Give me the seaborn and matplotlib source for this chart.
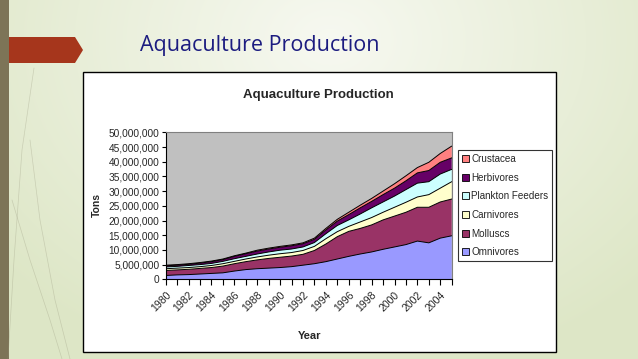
import numpy as np
import pandas as pd
import matplotlib
matplotlib.use("Agg")
import matplotlib.pyplot as plt
import seaborn as sns
from matplotlib.patches import Rectangle, Polygon, Patch
from matplotlib.ticker import FuncFormatter, MultipleLocator

# ---------------- data (million tons) ----------------
years = list(range(1980, 2006))
omnivores = [1.3, 1.5, 1.6, 1.8, 2.0, 2.2, 2.8, 3.3, 3.6, 3.8, 4.0, 4.3, 4.8, 5.3,
             6.0, 6.9, 7.8, 8.6, 9.3, 10.2, 11.0, 11.8, 13.0, 12.4, 14.0, 14.8]
molluscs = [1.7, 1.7, 1.8, 1.9, 2.0, 2.3, 2.5, 2.7, 3.0, 3.3, 3.5, 3.6, 3.7, 4.5,
            6.0, 7.6, 8.5, 8.7, 9.2, 10.0, 10.5, 11.0, 11.5, 12.1, 12.3, 12.5]
carnivores = [0.6, 0.6, 0.6, 0.6, 0.7, 0.8, 0.8, 0.9, 1.0, 1.1, 1.2, 1.2, 1.3, 1.4,
              1.8, 1.7, 1.7, 2.2, 2.5, 2.6, 3.0, 3.4, 3.5, 4.3, 4.7, 5.9]
plankton = [0.6, 0.6, 0.7, 0.7, 0.7, 0.8, 0.9, 0.9, 1.0, 1.1, 1.2, 1.2, 1.2, 1.3,
            1.7, 2.1, 2.2, 2.7, 3.3, 3.5, 3.8, 4.3, 4.7, 4.4, 4.8, 4.2]
herbivores = [0.4, 0.4, 0.4, 0.5, 0.6, 0.6, 0.8, 0.9, 1.0, 1.0, 1.0, 1.1, 1.1, 1.1,
              1.3, 1.5, 1.8, 2.1, 2.2, 2.5, 2.7, 3.0, 3.5, 3.8, 4.0, 3.9]
crustacea = [0.2, 0.2, 0.2, 0.2, 0.2, 0.2, 0.2, 0.2, 0.3, 0.3, 0.3, 0.3, 0.3, 0.4,
             0.5, 0.6, 0.8, 0.9, 1.0, 1.2, 1.5, 1.7, 1.8, 2.8, 3.0, 4.0]

series_names = ["Omnivores", "Molluscs", "Carnivores", "Plankton Feeders",
                "Herbivores", "Crustacea"]
series_vals = [omnivores, molluscs, carnivores, plankton, herbivores, crustacea]
colors = ["#9999FF", "#993366", "#FFFFCC", "#CCFFFF", "#660066", "#FF8080"]
x_labels = [str(y) if (y % 2 == 0 and y <= 2004) else "" for y in years]

# ---------------- style ----------------
sns.set_theme(style="white")
plt.rcParams["font.family"] = ["Liberation Sans", "DejaVu Sans"]

W, H = 638, 359
fig = plt.figure(figsize=(W / 100, H / 100), dpi=100)

# slide background
bg = fig.add_axes([0, 0, 1, 1])
bg.set_axis_off()
yy, xx = np.mgrid[0:H, 0:W]
d = np.clip(np.sqrt(((xx - 330) / 430.0) ** 2 + ((yy - 40) / 340.0) ** 2), 0, 1)
c0 = np.array([0.968, 0.975, 0.945])
c1 = np.array([0.87, 0.905, 0.78])
img = c0 + (c1 - c0) * d[..., None]
bg.imshow(img, extent=[0, W, H, 0], aspect="auto")
bg.set_xlim(0, W)
bg.set_ylim(H, 0)

# faint decorative lines on the left
for (xs, ys) in [([34, 22, 14, 8], [68, 150, 260, 359]),
                 ([30, 40, 55, 70], [140, 220, 300, 359]),
                 ([12, 30, 50, 62], [200, 260, 320, 359])]:
    bg.plot(xs, ys, color="#9a9a80", lw=0.5, alpha=0.35)

bg.add_patch(Rectangle((0, 0), 9, H, facecolor="#7d7457", edgecolor="none"))
bg.add_patch(Polygon([(9, 37), (75, 37), (83, 50), (75, 63), (9, 63)],
                     closed=True, facecolor="#a6361c", edgecolor="none"))
bg.text(140, 45, "Aquaculture Production", fontsize=15.5, color="#1c1c80",
        va="center", ha="left", family=["Open Sans", "DejaVu Sans"])

# chart box
bg.add_patch(Rectangle((83, 72), 473, 280, facecolor="white",
                       edgecolor="black", lw=1.0))
bg.text(318, 95, "Aquaculture Production", fontsize=9.5, weight="bold",
        ha="center", va="center",
        family=["Liberation Sans Narrow", "Liberation Sans", "DejaVu Sans"])
bg.text(97, 205, "Tons", fontsize=7.5, weight="bold", rotation=90,
        ha="center", va="center")
bg.text(310, 336, "Year", fontsize=8, weight="bold", ha="center", va="center",
        family=["Liberation Sans Narrow", "Liberation Sans", "DejaVu Sans"])

# plot area
ax = fig.add_axes([165.7 / W, 1 - 279.3 / H, 286 / W, 147 / H])
ax.set_facecolor("#C0C0C0")

df = pd.DataFrame({n: np.array(v) * 1e6 for n, v in zip(series_names, series_vals)},
                  index=years)
cum = df.cumsum(axis=1)
prev = np.zeros(len(years))
for n, c in zip(series_names, colors):
    ax.fill_between(years, prev, cum[n].values, facecolor=c, edgecolor="none",
                    zorder=2)
    prev = cum[n].values

long = cum.reset_index().melt(id_vars="index", var_name="Series", value_name="Cum")
long = long.rename(columns={"index": "Year"})
sns.lineplot(data=long, x="Year", y="Cum", units="Series", estimator=None,
             color="black", lw=0.7, ax=ax, legend=False, zorder=3)

ax.set_xlim(1980, 2005)
ax.set_ylim(0, 50e6)
ax.set_xlabel("")
ax.set_ylabel("")
ax.yaxis.set_major_locator(MultipleLocator(5e6))
ax.yaxis.set_major_formatter(FuncFormatter(lambda v, p: f"{v:,.0f}"))
ax.set_xticks(years)
ax.set_xticklabels(x_labels, rotation=45, ha="right", va="top",
                   rotation_mode="anchor")
ax.tick_params(axis="both", which="major", direction="out", color="black",
               width=0.8, labelsize=7.3, bottom=True, left=True)
ax.tick_params(axis="x", length=4, pad=3.5, labelsize=7.6)
ax.tick_params(axis="y", length=3, pad=1.5)
ax.grid(False)
for s in ["left", "bottom"]:
    ax.spines[s].set_color("black")
    ax.spines[s].set_linewidth(0.8)
for s in ["top", "right"]:
    ax.spines[s].set_color("#808080")
    ax.spines[s].set_linewidth(0.8)

handles = [Patch(facecolor=c, edgecolor="black", lw=0.6, label=n)
           for n, c in zip(series_names, colors)][::-1]
leg = fig.legend(handles=handles, loc="upper left",
                 bbox_to_anchor=(458 / W, 1 - 150 / H), frameon=True,
                 fancybox=False, edgecolor="black", fontsize=7.1,
                 handlelength=0.7, handleheight=0.7, handletextpad=0.25,
                 labelspacing=0.88, borderpad=0.4, borderaxespad=0)
leg.get_frame().set_linewidth(0.8)

fig.savefig("out.png", dpi=100)
